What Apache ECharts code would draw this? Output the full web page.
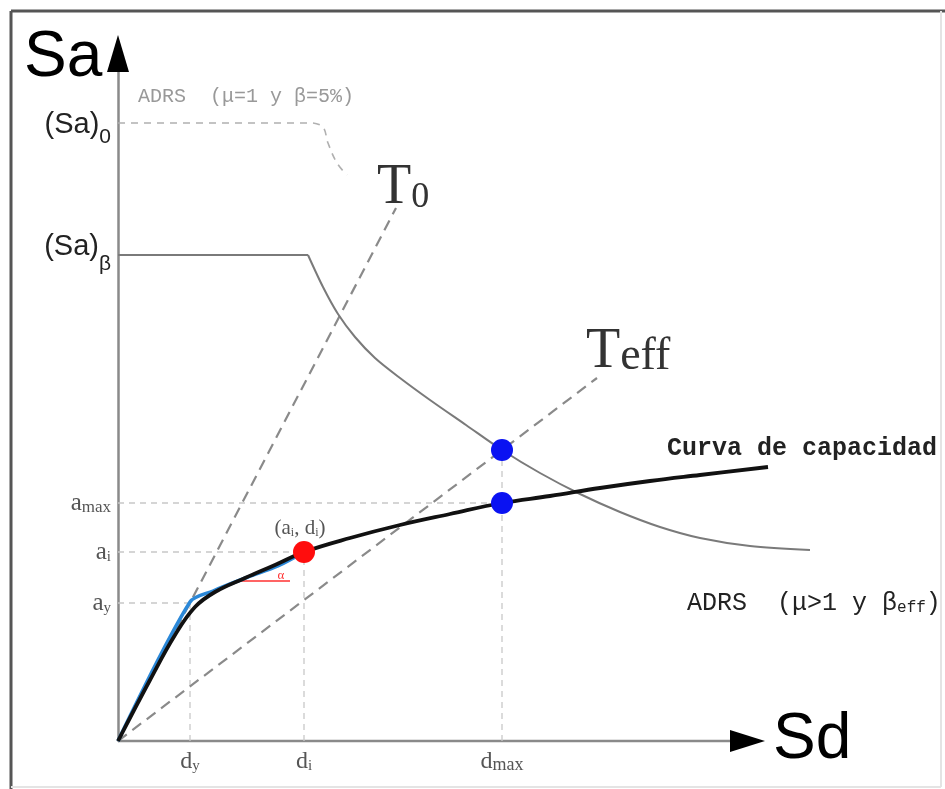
<!DOCTYPE html>
<html><head><meta charset="utf-8">
<script src="https://cdn.jsdelivr.net/npm/echarts@6/dist/echarts.min.js"></script>
<style>html,body{margin:0;padding:0;background:#fff}#c{width:945px;height:789px}</style>
</head><body><div id="c"></div>
<script>
// ---- data (abstract spectral units: Sd horizontally, Sa vertically) ----
const X_MAX = 70;          // plotting extent
const X_AXIS_END = 62.9;   // where the Sd arrow sits
const Y_MAX = 68.8;
const xTickValues = [7.2, 18.6, 38.4];
const xTickLabels = ['d{s|y}', 'd{s|i}', 'd{m|max}'];
const yTickValues = [13.8, 18.9, 23.8, 48.6, 61.8];
const yTickLabels = ['{a|a}{s|y}', '{a|a}{s|i}', '{a|a}{m|max}', '{pb|(Sa)}{b|β}', '{p|(Sa)}{q|0}'];

const capacityCurve = [[0,0],[3.2,6.1],[5.7,10.6],[7.7,13.4],[9.7,14.9],[12.7,16.3],[15.7,17.6],[18.6,18.9],[23.2,20.3],[28.2,21.6],[33.2,22.7],[38.4,23.8],[43.2,24.5],[48.2,25.3],[53.2,26.0],[58.2,26.6],[65.0,27.4]];
const bilinearCurve = [[0,0],[7.2,13.9],[9.5,15.0],[13.0,16.4],[16.0,17.5],[18.6,18.9]];
const adrsPlateau = [[0,48.6],[19.0,48.6]];
const adrsDemand = [[19.0,48.6],[20.5,45.4],[22.0,42.7],[23.7,40.4],[25.7,38.3],[28.2,36.3],[31.2,34.1],[34.8,31.6],[38.4,29.1],[42.2,26.8],[46.2,24.7],[50.2,22.9],[54.2,21.4],[58.2,20.3],[63.2,19.5],[69.2,19.1]];
const adrsElasticPlateau = [[0,61.8],[19.5,61.8]];
const adrsElasticDrop = [[19.5,61.8],[20.5,61.4],[21.0,59.8],[21.9,57.8],[22.9,56.6]];
const periodT0 = [[0,0],[27.8,53.3]];
const periodTeff = [[0,0],[47.9,36.3]];
const guideDy = [[7.2,0],[7.2,13.8]];
const guideDi = [[18.6,0],[18.6,18.9]];
const guideDmax = [[38.4,0],[38.4,29.1]];
const guideAy = [[0,13.8],[7.2,13.8]];
const guideAi = [[0,18.9],[18.6,18.9]];
const guideAmax = [[0,23.8],[38.4,23.8]];
const slopeMark = [[12.2,16.0],[17.2,16.0]];
const performancePoint = [[18.6,18.9]];
const demandPoints = [[38.4,29.1],[38.4,23.8]];

const serif = '"Liberation Serif","DejaVu Serif",serif';
const sans = '"Liberation Sans",Arial,sans-serif';
const mono = '"Liberation Mono","DejaVu Sans Mono",monospace';

function line(data, color, width, type, smooth, z) {
  return {type:'line', data, symbol:'none', smooth: smooth || false, clip:false, z: z || 2,
    lineStyle:{color, width, type: type || 'solid'}, silent:true, animation:false};
}
const guideColor = '#c8c8c8';
const guideType = [6,5];

const chart = echarts.init(document.getElementById('c'), null, {renderer:'canvas'});
chart.setOption({
  backgroundColor:'#fff',
  animation:false,
  grid:{left:118, right:127, top:53, bottom:48},
  xAxis:{type:'value', min:0, max:X_MAX,
    axisLine:{show:false},
    axisTick:{show:false}, splitLine:{show:false},
    axisLabel:{customValues:xTickValues, margin:9,
      formatter:(v)=>xTickLabels[xTickValues.indexOf(v)] || '',
      color:'#555', fontFamily:serif, fontSize:24,
      rich:{s:{fontFamily:serif, fontSize:15, color:'#555', verticalAlign:'bottom', lineHeight:8},
            m:{fontFamily:serif, fontSize:18, color:'#555', verticalAlign:'bottom', lineHeight:14}}}
  },
  yAxis:{type:'value', min:0, max:Y_MAX,
    axisLine:{show:true, lineStyle:{color:'#8a8a8a', width:2.5}},
    axisTick:{show:false}, splitLine:{show:false},
    axisLabel:{customValues:yTickValues, margin:7,
      formatter:(v)=>yTickLabels[yTickValues.indexOf(v)] || '',
      rich:{a:{fontFamily:serif, fontSize:25, color:'#555', lineHeight:26},
            s:{fontFamily:serif, fontSize:15, color:'#555', verticalAlign:'bottom', lineHeight:8},
            m:{fontFamily:serif, fontSize:17, color:'#555', verticalAlign:'bottom', lineHeight:24},
            p:{fontFamily:sans, fontSize:29, color:'#222', lineHeight:26, verticalAlign:'top'},
            q:{fontFamily:sans, fontSize:21, color:'#222', lineHeight:12, verticalAlign:'top', padding:[17,0,0,0]},
            pb:{fontFamily:sans, fontSize:29, color:'#222', lineHeight:45, verticalAlign:'top'},
            b:{fontFamily:sans, fontSize:21, color:'#222', lineHeight:12, verticalAlign:'top', padding:[21,0,0,0]}}}
  },
  series:[
    line(guideDy, guideColor, 1.3, guideType),
    line(guideDi, guideColor, 1.3, guideType),
    line(guideDmax, guideColor, 1.3, guideType),
    line(guideAy, guideColor, 1.3, guideType),
    line(guideAi, guideColor, 1.3, guideType),
    line(guideAmax, guideColor, 1.3, guideType),
    line(adrsElasticPlateau, '#b0b0b0', 1.6, [7,6]),
    line(adrsElasticDrop, '#b0b0b0', 1.6, [7,6], 0.4),
    line(periodT0, '#8a8a8a', 2.2, [11,7]),
    line(periodTeff, '#8a8a8a', 2.2, [11,7]),
    line(adrsPlateau, '#7a7a7a', 2, 'solid'),
    line(adrsDemand, '#7a7a7a', 2, 'solid', 0.3),
    line(slopeMark, '#ff3030', 1.5, 'solid', false, 3),
    line(bilinearCurve, '#2b88d8', 3.5, 'solid', 0.3, 4),
    line(capacityCurve, '#111', 3.8, 'solid', 0.4, 5),
    {type:'scatter', data:performancePoint, symbolSize:22, itemStyle:{color:'#ff0d0d', opacity:1}, z:6, silent:true},
    {type:'scatter', data:demandPoints, symbolSize:22, itemStyle:{color:'#0a12f2', opacity:1}, z:6, silent:true}
  ]
});

// axis arrows + annotations
const ox = chart.convertToPixel({xAxisIndex:0}, 0);
const oy = chart.convertToPixel({yAxisIndex:0}, 0);
const xe = chart.convertToPixel({xAxisIndex:0}, X_AXIS_END);
const ye = chart.convertToPixel({yAxisIndex:0}, Y_MAX);

chart.setOption({graphic:[
  {type:'line', shape:{x1:11,y1:11,x2:945,y2:11}, style:{stroke:'#555', lineWidth:3}, silent:true},
  {type:'line', shape:{x1:11,y1:11,x2:11,y2:789}, style:{stroke:'#555', lineWidth:3}, silent:true},
  {type:'line', shape:{x1:941,y1:11,x2:941,y2:787}, style:{stroke:'#e4e4e4', lineWidth:2}, silent:true},
  {type:'line', shape:{x1:11,y1:787,x2:941,y2:787}, style:{stroke:'#e4e4e4', lineWidth:2}, silent:true},
  {type:'line', shape:{x1:ox,y1:oy,x2:xe,y2:oy}, style:{stroke:'#8a8a8a', lineWidth:2.5}, silent:true, z:1},
  {type:'polygon', shape:{points:[[xe+18,oy],[xe-17,oy-11],[xe-17,oy+11]]}, style:{fill:'#000'}, silent:true, z:10},
  {type:'polygon', shape:{points:[[ox,ye-18],[ox-11,ye+19],[ox+11,ye+19]]}, style:{fill:'#000'}, silent:true, z:10},
  {type:'text', x:24, y:58, style:{text:'Sa', font:'64px '+sans, fill:'#000', textVerticalAlign:'middle'}, silent:true},
  {type:'text', x:773, y:740, style:{text:'Sd', font:'64px '+sans, fill:'#000', textVerticalAlign:'middle'}, silent:true},
  {type:'text', x:138, y:97, style:{text:'ADRS  (μ=1 y β=5%)', font:'20px '+mono, fill:'#999', textVerticalAlign:'middle'}, silent:true},
  {type:'text', x:377, y:188, style:{text:'T{s|0}', font:'56px '+serif, fill:'#333', textVerticalAlign:'middle',
     rich:{s:{fontFamily:serif, fontSize:36, fill:'#333', verticalAlign:'bottom', lineHeight:10}}}, silent:true},
  {type:'text', x:586, y:352, style:{text:'T{s|eff}', font:'56px '+serif, fill:'#333', textVerticalAlign:'middle',
     rich:{s:{fontFamily:serif, fontSize:46, fill:'#333', verticalAlign:'bottom', lineHeight:12}}}, silent:true},
  {type:'text', x:300, y:528, style:{text:'(a{s|i}, d{s|i})', font:'21px '+serif, fill:'#555', textAlign:'center', textVerticalAlign:'middle',
     rich:{s:{fontFamily:serif, fontSize:12, fill:'#555', verticalAlign:'bottom', lineHeight:6}}}, silent:true},
  {type:'text', x:281, y:576, style:{text:'α', font:'13px '+serif, fill:'#ff3030', textAlign:'center', textVerticalAlign:'middle'}, silent:true},
  {type:'text', x:667, y:449, style:{text:'Curva de capacidad', font:'bold 25px '+mono, fill:'#222', textVerticalAlign:'middle'}, silent:true},
  {type:'text', x:687, y:603, style:{text:'ADRS  (μ>1 y β{s|eff})', font:'25px '+mono, fill:'#222', textVerticalAlign:'middle',
     rich:{s:{fontFamily:mono, fontSize:16, fill:'#222', verticalAlign:'bottom', lineHeight:8}}}, silent:true}
]});
</script></body></html>
